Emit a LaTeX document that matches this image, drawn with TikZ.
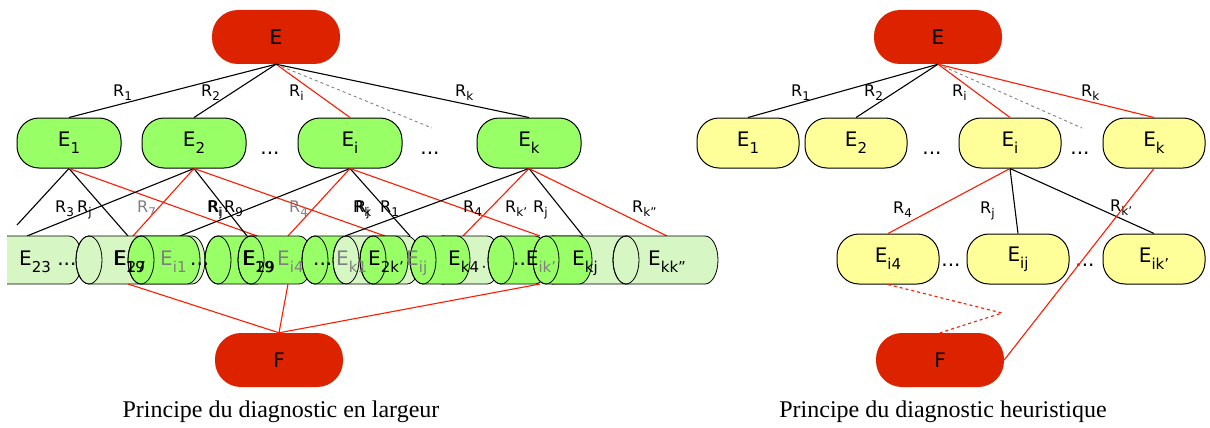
\documentclass[tikz,border=0pt]{standalone}
\usepackage{fontspec}
\setmainfont{DejaVu Sans}
\newfontfamily\capfont{Liberation Serif}
\usetikzlibrary{positioning}
\definecolor{redE}{HTML}{DD2200}
\definecolor{grnE}{HTML}{99FF66}
\definecolor{ylwE}{HTML}{FFFF99}
\definecolor{lgrnE}{HTML}{D6F6C4}
\definecolor{redL}{HTML}{FF1A00}
\newcommand{\esub}[1]{\raisebox{-0.35em}{\fontsize{15}{15}\selectfont #1}}
\newcommand{\rsub}[1]{\raisebox{-0.25em}{\fontsize{12}{12}\selectfont #1}}
% horizontal cylinder: left x, right x, style
\newcommand{\cyl}[3]{%
  \path[#3] (#1+13,-236) -- (#2-13,-236) arc[start angle=90,end angle=-90,x radius=13pt,y radius=24pt]
    -- (#1+13,-284) arc[start angle=270,end angle=90,x radius=13pt,y radius=24pt] -- cycle;
  \draw[cylline] (#1+13,-260) ellipse[x radius=13pt,y radius=24pt];
}
\tikzset{
    rootnode/.style={
      rectangle, rounded corners=26pt,
           fill=redE,
           inner sep=0pt,
           text centered,
           minimum width=128pt, minimum height=54pt,
           font=\fontsize{20}{22}\selectfont,
           },
}
\tikzset{
    greennode/.style={
      rectangle, rounded corners=22pt,
           draw=black, line width=1pt, fill=grnE,
           inner sep=0pt,
           text centered,
           minimum width=104pt, minimum height=50pt,
           font=\fontsize{20}{22}\selectfont,
           },
}
\tikzset{
    yellownode/.style={
      rectangle, rounded corners=22pt,
           draw=black, line width=1pt, fill=ylwE,
           inner sep=0pt,
           text centered,
           minimum width=102pt, minimum height=50pt,
           font=\fontsize{20}{22}\selectfont,
           },
}
\tikzset{
    blk/.style={draw=black, line width=1.1pt},
    rd/.style={draw=redL, line width=1.1pt},
    gdash/.style={draw=gray, dashed, line width=0.9pt},
    rdash/.style={draw=redL, dashed, line width=1.1pt},
    rlab/.style={anchor=base west, inner sep=0pt, font=\fontsize{16}{18}\selectfont},
    elab/.style={anchor=base west, inner sep=0pt, font=\fontsize{20}{22}\selectfont},
    dotlab/.style={anchor=base, inner sep=0pt, font=\fontsize{20}{22}\selectfont},
    lcyl/.style={fill=lgrnE, draw=black, line width=0.8pt},
    scyl/.style={fill=grnE, draw=black, line width=0.8pt},
    cylline/.style={draw=black, line width=0.8pt},
    captext/.style={anchor=base, inner sep=0pt, font=\capfont\fontsize{24}{28}\selectfont},
}
\begin{document}
\begin{tikzpicture}[x=1pt,y=1pt]
\useasboundingbox (0,0) rectangle (1210,-428);

%%% left: en largeur
\node[rootnode](lE) at (276,-37){E};

\node[greennode](lE1) at (69,-143){E\esub{1}};
\node[greennode,right = 20pt of lE1](lE2){E\esub{2}};
\node[greennode,right = 51pt of lE2](lEi){E\esub{i}};
\node[greennode,right = 74pt of lEi](lEk){E\esub{k}};
\node[dotlab](ldots1) at (270,-154){...};
\node[dotlab](ldots2) at (430,-154){...};

\coordinate (ldash) at (432,-128);

\path (lE.south) edge[blk](lE1.north);
\path (lE.south) edge[blk](lE2.north);
\path (lE.south) edge[rd](lEi.north);
\path (lE.south) edge[gdash](ldash);
\path (lE.south) edge[blk](lEk.north);

\node[rlab](lr1) at (113,-96){R\rsub{1}};
\node[rlab](lr2) at (201,-96){R\rsub{2}};
\node[rlab](lri) at (289,-96){R\rsub{i}};
\node[rlab](lrk) at (455,-96){R\rsub{k}};

% ends on top of the row
\coordinate (a1) at (17,-225);
\coordinate (a2) at (128,-236);
\coordinate (a3) at (257,-236);
\coordinate (b1) at (27,-236);
\coordinate (b2) at (133,-236);
\coordinate (b3) at (247,-236);
\coordinate (b4) at (385,-236);
\coordinate (c1) at (180,-236);
\coordinate (c2) at (288,-236);
\coordinate (c3) at (410,-236);
\coordinate (c4) at (540,-236);
\coordinate (d1) at (345,-236);
\coordinate (d2) at (463,-236);
\coordinate (d3) at (583,-236);
\coordinate (d4) at (667,-236);

\path (lE1.south) edge[blk](a1);
\path (lE1.south) edge[blk](a2);
\path (lE1.south) edge[rd](a3);
\path (lE2.south) edge[blk](b1);
\path (lE2.south) edge[rd](b2);
\path (lE2.south) edge[blk](b3);
\path (lE2.south) edge[rd](b4);
\path (lEi.south) edge[blk](c1);
\path (lEi.south) edge[rd](c2);
\path (lEi.south) edge[blk](c3);
\path (lEi.south) edge[rd](c4);
\path (lEk.south) edge[blk](d1);
\path (lEk.south) edge[rd](d2);
\path (lEk.south) edge[blk](d3);
\path (lEk.south) edge[rd](d4);

\node[rlab](lr3) at (55,-212){R\rsub{3}};
\node[rlab](lrj) at (77,-212){R\rsub{j}};
\node[rlab,text=gray](lr7) at (137,-212){R\rsub{7}};
\node[rlab](lri2) at (207,-212){R\rsub{i}};
\node[rlab](lrj2) at (208,-212){R\rsub{j}};
\node[rlab](lr9) at (224,-212){R\rsub{9}};
\node[rlab,text=gray](lr4) at (289,-212){R\rsub{4}};
\node[rlab](lrk2) at (353,-212){R\rsub{k}};
\node[rlab](lrj3) at (355,-212){R\rsub{j}};
\node[rlab](lr1b) at (380,-212){R\rsub{1}};
\node[rlab](lr4b) at (463,-212){R\rsub{4}};
\node[rlab](lrkp) at (505,-212){R\rsub{k'}};
\node[rlab](lrj4) at (533,-212){R\rsub{j}};
\node[rlab](lrkpp) at (632,-212){R\rsub{k''}};

% the row of cylinders
\begin{scope}
\clip (7,-230) rectangle (90,-290);
\cyl{-30}{82}{lcyl}
\end{scope}
\cyl{76}{205}{lcyl}
\cyl{128}{200}{scyl}
\cyl{205}{270}{scyl}
\cyl{238}{312}{scyl}
\cyl{302}{356}{scyl}
\cyl{333}{420}{lcyl}
\cyl{360}{408}{scyl}
\cyl{430}{500}{lcyl}
\cyl{410}{470}{scyl}
\cyl{488}{548}{scyl}
\cyl{540}{640}{lcyl}
\cyl{533}{592}{scyl}
\cyl{613}{718}{lcyl}

\node[elab](e23) at (19,-265){E\esub{23} ...};
\node[elab](e19) at (113,-265){E\esub{19}};
\node[elab](e27) at (114,-265){E\esub{27}};
\node[elab,text=gray](ei1) at (160,-265){E\esub{i1}};
\node[elab](edots1) at (190,-265){...};
\node[elab](e19b) at (242,-265){E\esub{19}};
\node[elab](e29) at (243,-265){E\esub{29}};
\node[elab,text=gray](ei4) at (277,-265){E\esub{i4}};
\node[elab](edots2) at (313,-265){...};
\node[elab,text=gray](ek1) at (336,-265){E\esub{k1}};
\node[elab](e2k) at (368,-265){E\esub{2k'}};
\node[elab,text=gray](eij) at (406,-265){E\esub{ij}};
\node[elab](ek4) at (448,-265){E\esub{k4\,·}};
\node[elab](eikp) at (513,-265){..E\esub{\color{gray}ik'}};
\node[elab](ekj) at (572,-265){E\esub{kj}};
\node[elab](ekk) at (648,-265){E\esub{kk''}};

\node[rootnode](lF) at (279,-360){F};

\coordinate (f1) at (128,-284);
\coordinate (f2) at (288,-284);
\coordinate (f3) at (540,-284);
\path (f1) edge[rd](lF.north);
\path (f2) edge[rd](lF.north);
\path (f3) edge[rd](lF.north);

\node[captext](lcap) at (281,-417){Principe du diagnostic en largeur};

%%% right: heuristique
\node[rootnode](rE) at (938,-37){E};

\node[yellownode](rE1) at (748,-143){E\esub{1}};
\node[yellownode,right = 5pt of rE1](rE2){E\esub{2}};
\node[yellownode,right = 51pt of rE2](rEi){E\esub{i}};
\node[yellownode,right = 41pt of rEi](rEk){E\esub{k}};
\node[dotlab](rdots1) at (932,-154){...};
\node[dotlab](rdots2) at (1080,-154){...};

\coordinate (rdash) at (1082,-128);

\path (rE.south) edge[blk](rE1.north);
\path (rE.south) edge[blk](rE2.north);
\path (rE.south) edge[rd](rEi.north);
\path (rE.south) edge[gdash](rdash);
\path (rE.south) edge[rd](rEk.north);

\node[rlab](rr1) at (791,-96){R\rsub{1}};
\node[rlab](rr2) at (864,-96){R\rsub{2}};
\node[rlab](rri) at (952,-96){R\rsub{i}};
\node[rlab](rrk) at (1081,-96){R\rsub{k}};

\node[yellownode](rEi4) at (888,-259){E\esub{i4}};
\node[yellownode,right = 27pt of rEi4](rEij){E\esub{ij}};
\node[yellownode,right = 33pt of rEij](rEik){E\esub{ik'}};
\node[dotlab](rdots3) at (951,-266){...};
\node[dotlab](rdots4) at (1085,-266){...};

\path (rEi.south) edge[rd](rEi4.north);
\path (rEi.south) edge[blk](rEij.north);
\path (rEi.south) edge[blk](rEik.north);

\node[rlab](rr4) at (893,-213){R\rsub{4}};
\node[rlab](rrj) at (980,-213){R\rsub{j}};
\node[rlab](rrkp) at (1110,-211){R\rsub{k'}};

\node[rootnode](rF) at (940,-360){F};
\coordinate (rbend) at (1002,-313);

\path (rEk.south) edge[rd](rF.east);
\draw[rdash] (rEi4.south) -- (rbend) -- (rF.north);

\node[captext](rcap) at (943,-417){Principe du diagnostic heuristique};

\end{tikzpicture}
\end{document}
